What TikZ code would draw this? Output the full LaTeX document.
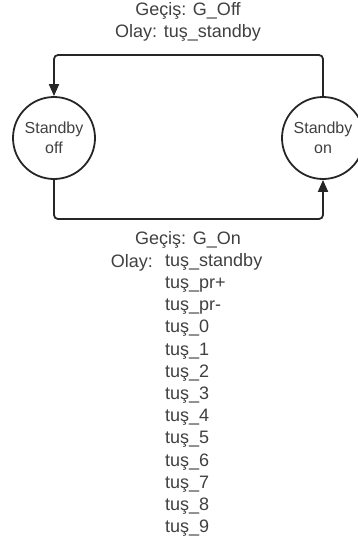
\documentclass[tikz,border=0pt]{standalone}
\usepackage{fontspec}
\setmainfont{Liberation Sans}
\usetikzlibrary{arrows.meta}
\begin{document}
\begin{tikzpicture}[x=1pt,y=-1pt,
  state/.style={circle,draw=black!85,line width=1.8pt,minimum size=82pt,inner sep=0pt,
    align=center,font=\fontsize{16}{20}\selectfont,text=black!75},
  conn/.style={draw=black!85,line width=1.8pt,rounded corners=4pt},
  arr/.style={conn,-{Triangle[length=12pt,width=10pt]}},
  lbl/.style={font=\fontsize{18}{22.2}\selectfont,text=black!75,inner sep=0pt}]
\useasboundingbox (0,0) rectangle (358,544);
\node[state] (off) at (54,138) {Standby\\off};
\node[state] (on) at (323,138) {Standby\\on};
\coordinate (topmid) at (188,55);
\coordinate (botmid) at (188,219);
\draw[arr] (on.north) |- (topmid) -| (off.north);
\draw[arr] (off.south) |- (botmid) -| (on.south);
\node[lbl,align=center] (toplbl) at (188,22) {Geçiş: G\_Off\\Olay: tuş\_standby};
\node[lbl,anchor=base] (g2) at (188,244) {Geçiş: G\_On};
\node[lbl,anchor=base east] (olay) at (153,267) {Olay:};
\node[lbl,anchor=north west,align=left] (list) at (165,253)
  {tuş\_standby\\tuş\_pr+\\tuş\_pr-\\tuş\_0\\tuş\_1\\tuş\_2\\tuş\_3\\tuş\_4\\tuş\_5\\tuş\_6\\tuş\_7\\tuş\_8\\tuş\_9};
\end{tikzpicture}
\end{document}
